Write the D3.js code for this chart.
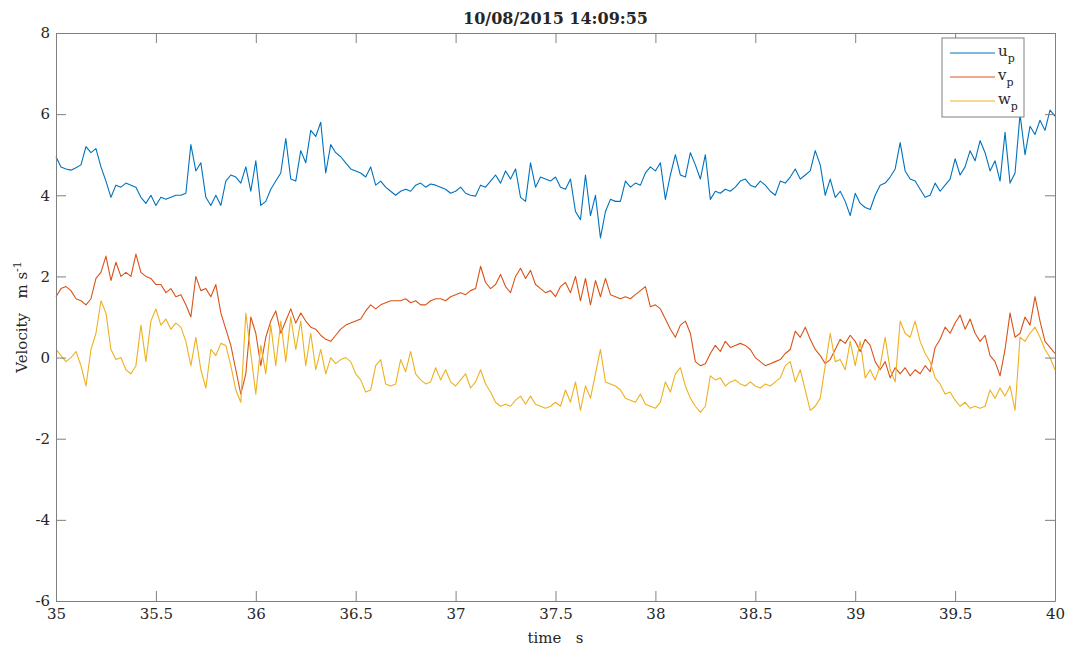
<!DOCTYPE html>
<html>
<head>
<meta charset="utf-8">
<title>10/08/2015 14:09:55</title>
<script src="https://cdn.jsdelivr.net/npm/d3@7"></script>
<style>
  body { margin: 0; background: #fff; }
  svg text { font-family: "DejaVu Serif", serif; fill: #262626; }
</style>
</head>
<body>
<svg id="chart" width="1071" height="653"></svg>
<script>
// sampled every 0.025 s starting at 35 s
var t0 = 35, dt = 0.025;

var up = [
  4.95,4.70,4.65,4.62,4.68,4.75,5.20,5.05,5.15,4.70, 4.35,3.95,4.25,4.20,4.30,4.25,4.20,3.95,3.80,4.00,
  3.75,3.95,3.90,3.95,4.00,4.00,4.05,5.25,4.60,4.80, 3.95,3.75,4.00,3.75,4.35,
  4.50,4.45,4.30,4.70,4.10,4.85,3.75,3.85,4.15,4.35, 4.55,5.40,4.40,4.35,5.10,4.80,5.60,5.45,5.80,4.55,
  5.25,5.05,4.95,4.80,4.65,4.60,4.55,4.45,4.70,4.25, 4.35,4.20,4.10,4.00,
  4.10,4.15,4.10,4.25,4.30,4.20,4.28,4.25,4.20,4.15, 4.05,4.10,4.20,4.05,4.00,3.98,4.25,4.20,4.35,4.50,
  4.30,4.60,4.40,4.65,3.95,3.85,4.80,4.20,4.45,4.40, 4.35,4.45,4.20,4.15,
  4.40,3.60,3.40,4.50,3.50,4.00,2.95,3.60,3.90,3.85, 3.85,4.35,4.20,4.30,4.25,4.55,4.70,4.60,4.80,3.90,
  4.50,5.00,4.50,4.45,5.05,4.75,4.40,5.00,3.90,4.10, 4.05,4.15,4.10,4.20,
  4.35,4.40,4.25,4.20,4.35,4.25,4.10,4.00,4.35,4.30, 4.45,4.65,4.40,4.50,4.60,5.10,4.75,4.00,4.40,3.95,
  4.10,3.85,3.50,4.05,3.80,3.70,3.65,4.00,4.25,4.30, 4.45,4.65,5.30,
  4.60,4.40,4.35,4.15,3.95,4.00,4.30,4.10,4.25,4.40, 4.90,4.50,4.70,5.10,4.85,5.35,5.05,4.60,4.85,4.35,
  5.55,4.30,4.55,6.00,5.00,5.70,5.50,5.85,5.60,6.10, 5.95
];

var vp = [
  1.50,1.70,1.75,1.65,1.45,1.40,1.30,1.45,1.95,2.10, 2.50,1.90,2.35,2.00,2.10,2.00,2.55,2.10,2.00,1.95,
  1.80,1.80,1.60,1.70,1.50,1.55,1.30,1.00,2.00,1.65, 1.70,1.50,1.80,1.10,0.70,
  0.30,-0.30,-0.90,-0.40,1.00,0.60,-0.20,0.50,0.90,1.15, 0.60,0.90,1.20,0.85,1.10,0.90,0.75,0.70,0.55,0.45,
  0.40,0.55,0.70,0.80,0.85,0.90,0.95,1.15,1.30,1.20, 1.30,1.35,1.40,1.40,
  1.40,1.45,1.35,1.40,1.30,1.30,1.40,1.45,1.45,1.40, 1.50,1.55,1.60,1.55,1.65,1.70,2.25,1.85,1.70,1.80,
  2.05,1.75,1.60,2.00,2.20,1.95,2.15,1.80,1.70,1.60, 1.65,1.50,1.75,1.85,
  1.60,2.00,1.40,1.95,1.30,1.90,1.50,1.95,1.55,1.50, 1.45,1.50,1.45,1.55,1.65,1.75,1.25,1.30,1.20,0.95,
  0.70,0.50,0.80,0.90,0.60,-0.10,-0.20,-0.15,0.10,0.30, 0.15,0.40,0.25,0.30,
  0.35,0.30,0.20,0.00,-0.10,-0.20,-0.15,-0.10,-0.05,0.10, 0.20,0.65,0.50,0.75,0.45,0.20,0.05,-0.15,-0.05,0.20,
  0.45,0.35,0.55,0.40,0.15,0.45,0.30,-0.10,-0.30,-0.10, -0.50,-0.25,-0.40,
  -0.25,-0.45,-0.30,-0.40,-0.20,-0.35,0.25,0.45,0.75,0.60, 0.85,1.05,0.70,0.95,0.60,0.40,0.55,0.05,-0.10,-0.45,
  0.20,1.10,0.50,0.60,1.00,0.80,1.50,0.90,0.40,0.25, 0.10
];

var wp = [
  0.20,0.05,-0.10,0.00,0.15,-0.20,-0.70,0.20,0.60,1.40, 1.10,0.20,-0.05,0.00,-0.30,-0.40,-0.20,0.80,-0.10,0.90,
  1.20,0.80,0.95,0.70,0.85,0.75,0.40,-0.20,0.50,-0.30, -0.75,0.20,0.05,0.35,0.30,
  -0.20,-0.80,-1.10,1.10,0.10,-0.90,0.30,-0.40,0.80,-0.20, 0.90,-0.10,1.00,0.20,0.90,-0.20,0.60,-0.30,0.20,-0.40,
  0.00,-0.15,-0.05,0.00,-0.10,-0.40,-0.55,-0.85,-0.80,-0.20, -0.05,-0.65,-0.70,-0.65,
  -0.05,-0.35,0.15,-0.40,-0.55,-0.65,-0.60,-0.25,-0.55,-0.30, -0.60,-0.70,-0.55,-0.40,-0.75,-0.60,-0.30,-0.65,-0.85,-1.10,
  -1.20,-1.15,-1.20,-1.05,-0.95,-1.15,-0.95,-1.15,-1.20,-1.25, -1.20,-1.10,-1.20,-0.80,
  -1.10,-0.60,-1.30,-0.70,-1.00,-0.40,0.20,-0.60,-0.65,-0.70, -0.80,-1.00,-1.05,-1.10,-0.90,-1.15,-1.20,-1.25,-1.10,-0.60,
  -0.85,-0.40,-0.25,-0.70,-1.00,-1.20,-1.35,-1.20,-0.45,-0.55, -0.50,-0.70,-0.60,-0.55,
  -0.65,-0.70,-0.60,-0.70,-0.75,-0.65,-0.70,-0.60,-0.50,-0.20, -0.10,-0.60,-0.30,-0.80,-1.30,-1.20,-1.00,-0.20,0.60,-0.10,
  -0.05,-0.30,0.40,-0.20,0.40,-0.50,-0.30,-0.55,-0.20,0.50, -0.30,-0.60,0.90,
  0.60,0.50,0.90,0.40,0.10,-0.10,-0.50,-0.65,-0.90,-0.85, -1.05,-1.20,-1.10,-1.25,-1.20,-1.25,-1.20,-0.80,-1.00,-0.75,
  -0.95,-0.70,-1.30,0.50,0.40,0.60,0.75,0.50,0.20,0.00, -0.30
];

var xTicks = [35, 35.5, 36, 36.5, 37, 37.5, 38, 38.5, 39, 39.5, 40];
var yTicks = [-6, -4, -2, 0, 2, 4, 6, 8];
var names = ["u", "v", "w"];
var colors = ["#0072BD", "#D95319", "#EDB120"];

var plotL = 56, plotT = 33, plotR = 1055, plotB = 601;

var svg = d3.select("#chart");
var x = d3.scaleLinear().domain([35, 40]).range([plotL, plotR]);
var y = d3.scaleLinear().domain([-6, 8]).range([plotB, plotT]);

// lines, u first so w sits on top
var line = d3.line()
  .x(function(d, i) { return x(t0 + i * dt); })
  .y(function(d) { return y(d); });

[up, vp, wp].forEach(function(s, k) {
  svg.append("path")
    .datum(s)
    .attr("fill", "none")
    .attr("stroke", colors[k])
    .attr("stroke-width", 1.1)
    .attr("stroke-linejoin", "round")
    .attr("d", line);
});

// box axes with inward ticks, plain hyphen for negatives like matlab
function plain(d) { return String(d); }

function styleAxis(g) {
  g.selectAll(".domain").attr("stroke", "#808080");
  g.selectAll(".tick line").attr("stroke", "#808080");
  g.selectAll(".tick text").attr("font-size", 15).attr("fill", "#262626")
    .attr("font-family", "DejaVu Serif, serif");
}

svg.append("g").attr("transform", "translate(0," + plotB + ")")
  .call(d3.axisBottom(x).tickValues(xTicks).tickSizeInner(-10).tickSizeOuter(0).tickPadding(7)
    .tickFormat(plain))
  .call(styleAxis);
svg.append("g").attr("transform", "translate(0," + plotT + ")")
  .call(d3.axisTop(x).tickValues(xTicks).tickSizeInner(-10).tickSizeOuter(0).tickFormat(""))
  .call(styleAxis);
svg.append("g").attr("transform", "translate(" + plotL + ",0)")
  .call(d3.axisLeft(y).tickValues(yTicks).tickSizeInner(-10).tickSizeOuter(0).tickPadding(6)
    .tickFormat(plain))
  .call(styleAxis);
svg.append("g").attr("transform", "translate(" + plotR + ",0)")
  .call(d3.axisRight(y).tickValues(yTicks).tickSizeInner(-10).tickSizeOuter(0).tickFormat(""))
  .call(styleAxis);

// title
svg.append("text")
  .attr("x", (plotL + plotR) / 2).attr("y", 24)
  .attr("text-anchor", "middle")
  .attr("font-size", 16).attr("font-weight", "bold")
  .attr("fill", "#000")
  .text("10/08/2015 14:09:55");

// axis labels
svg.append("text")
  .attr("x", (plotL + plotR) / 2).attr("y", 643)
  .attr("text-anchor", "middle")
  .attr("font-size", 15)
  .style("white-space", "pre")
  .text("time   s");

var yl = svg.append("text")
  .attr("transform", "translate(27," + ((plotT + plotB) / 2) + ") rotate(-90)")
  .attr("text-anchor", "middle")
  .attr("font-size", 15)
  .style("white-space", "pre");
yl.append("tspan").text("Velocity   m s");
yl.append("tspan").attr("font-size", 11).attr("dy", -6).text("-1");

// legend
var lg = svg.append("g");
lg.append("rect")
  .attr("x", 942).attr("y", 38).attr("width", 82).attr("height", 79)
  .attr("fill", "#fff").attr("stroke", "#808080");
names.forEach(function(n, k) {
  var ly = 53 + k * 24;
  lg.append("line")
    .attr("x1", 950).attr("x2", 995).attr("y1", ly).attr("y2", ly)
    .attr("stroke", colors[k]).attr("stroke-width", 1);
  var tx = lg.append("text").attr("x", 998).attr("y", ly + 3).attr("font-size", 15);
  tx.append("tspan").text(n);
  tx.append("tspan").attr("font-size", 11).attr("dy", 6).text("p");
});
</script>
</body>
</html>
